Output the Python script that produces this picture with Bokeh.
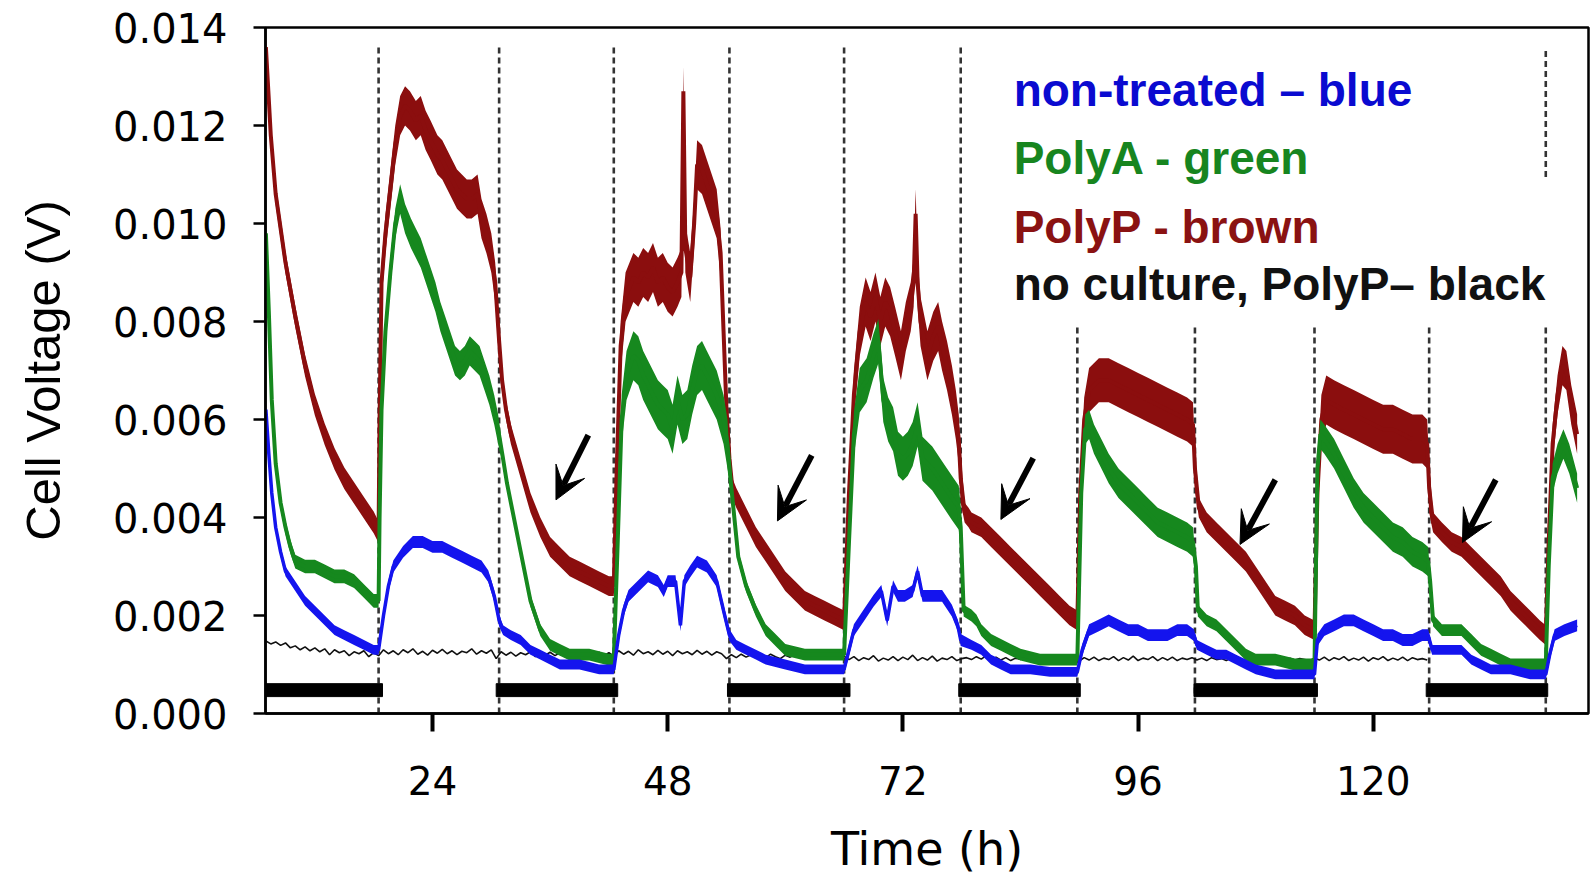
import numpy as np
from bokeh.plotting import figure
from bokeh.models import Range1d, FixedTicker, PrintfTickFormatter, Label, Arrow, VeeHead
from bokeh.embed import file_html
from bokeh.resources import INLINE

# ---------------- data ----------------
x_ticks = [24, 48, 72, 96, 120]
y_ticks = [0.0, 0.002, 0.004, 0.006, 0.008, 0.010, 0.012, 0.014]

# light/dark transition times (h) -> dashed lines
transitions = [18.5, 30.8, 42.5, 54.3, 66.0, 77.9, 89.8, 101.8, 114.0, 125.7, 137.6]
dash_top = [0.01359, 0.01359, 0.01359, 0.01359, 0.01359, 0.01359, 0.00791, 0.00791, 0.00791, 0.00791, 0.00791]
dash_extra_x = [137.6]
dash_extra_lo = [0.01095]
dash_extra_hi = [0.01359]

# dark periods (black bars)
dark_start = [6.96, 30.5, 54.1, 77.7, 101.7, 125.4]
dark_end = [18.9, 42.9, 66.6, 90.1, 114.3, 137.8]

# period edges: D1 L1 D2 L2 D3 L3 D4 L4 D5 L5 D6 L6
period_edges = [7.0, 18.5, 30.8, 42.5, 54.3, 66.0, 77.9, 89.8, 101.8, 114.0, 125.7, 137.6, 142.0]
brown_noise = [0.00022, 0.0004, 0.0002, 0.0005, 0.0002, 0.0005, 0.0002, 0.00045, 0.0002, 0.0005, 0.0002, 0.0004]
green_noise = [0.00014, 0.0003, 0.00012, 0.0005, 0.00012, 0.00045, 0.00012, 0.0003, 0.00012, 0.0003, 0.00012, 0.0003]
blue_noise = [0.0001, 0.00012, 0.0001, 0.00012, 0.0001, 0.00012, 0.0001, 0.00012, 0.0001, 0.00012, 0.0001, 0.00012]

brown_t = [7.0, 7.5, 8.0, 8.5, 9.0, 10.0, 11.0, 12.0, 13.0, 14.0, 15.0, 16.0, 17.0, 18.0, 18.5,
           18.6, 18.8, 19.2, 19.7, 20.2, 20.7, 21.2, 21.7, 22.3, 22.8, 23.3, 23.8, 24.5, 25.0, 25.5, 26.0,
           26.5, 27.0, 27.5, 28.0, 28.6, 29.0, 29.5, 30.0, 30.4, 30.8,
           31.1, 31.5, 32.0, 33.0, 34.0, 35.0, 36.0, 37.0, 38.0, 39.0, 40.0, 41.0, 42.0, 42.5,
           42.8, 43.2, 43.7, 44.5, 45.0, 45.5, 46.0, 46.5, 47.0, 47.5, 48.0, 48.5, 49.0, 49.4, 49.6, 49.8,
           50.3, 50.7, 51.0, 51.5, 52.0, 52.5, 53.0, 53.4, 53.7, 54.0, 54.3,
           54.6, 55.0, 56.0, 57.0, 58.0, 59.0, 60.0, 61.0, 62.0, 63.0, 64.0, 65.0, 66.0,
           66.5, 67.0, 67.6, 68.2, 68.7, 69.2, 69.7, 70.2, 70.7, 71.2, 71.8, 72.3, 72.8, 73.1, 73.3, 73.5,
           73.8, 74.5, 75.1, 75.6, 76.0, 76.5, 77.0, 77.4, 77.7, 77.9,
           78.3, 78.7, 79.0, 80.0, 81.0, 82.0, 83.0, 84.0, 85.0, 86.0, 87.0, 88.0, 89.0, 89.8,
           90.1, 90.5, 91.0, 92.0, 93.0, 94.0, 95.0, 96.0, 97.0, 98.0, 99.0, 100.0, 101.0, 101.6, 101.8,
           102.2, 103.0, 104.0, 105.0, 106.0, 107.0, 108.0, 109.0, 110.0, 111.0, 112.0, 113.0, 114.0,
           114.3, 114.7, 115.2, 116.0, 117.0, 118.0, 119.0, 120.0, 121.0, 122.0, 123.0, 124.0, 125.0, 125.5, 125.7,
           126.1, 127.0, 128.0, 129.0, 130.0, 131.0, 132.0, 133.0, 134.0, 135.0, 136.0, 137.0, 137.6,
           137.9, 138.3, 138.8, 139.3, 139.7, 140.2, 140.8]
brown_v = [0.0136, 0.0118, 0.0106, 0.0099, 0.0092, 0.0081, 0.0071, 0.0063, 0.0057, 0.0052, 0.0048, 0.0045, 0.0042, 0.0039, 0.0037,
           0.0060, 0.0088, 0.0098, 0.0107, 0.0116, 0.0122, 0.0124, 0.0123, 0.0121, 0.0122, 0.0119, 0.0117, 0.0114, 0.0113, 0.0111, 0.0109,
           0.0107, 0.0106, 0.0105, 0.0105, 0.0106, 0.0101, 0.0098, 0.0094, 0.0088, 0.0076,
           0.0068, 0.0062, 0.0057, 0.0050, 0.0043, 0.0038, 0.0034, 0.0032, 0.0030, 0.0029, 0.0028, 0.0027, 0.0026, 0.0026,
           0.0050, 0.0075, 0.0085, 0.0089, 0.0088, 0.0090, 0.0089, 0.0091, 0.0088, 0.0089, 0.0087, 0.0086, 0.0088, 0.0090, 0.0127, 0.0095,
           0.0089, 0.0100, 0.0112, 0.0111, 0.0108, 0.0105, 0.0102, 0.0094, 0.0078, 0.0062, 0.0052,
           0.0046, 0.0044, 0.0040, 0.0036, 0.0033, 0.0030, 0.0027, 0.0025, 0.0023, 0.0022, 0.0021, 0.0020, 0.0019,
           0.0045, 0.0065, 0.0078, 0.0084, 0.0081, 0.0085, 0.0080, 0.0084, 0.0082, 0.0078, 0.0073, 0.0079, 0.0083, 0.0088, 0.0102, 0.0088,
           0.0080, 0.0073, 0.0077, 0.0079, 0.0075, 0.0071, 0.0066, 0.0061, 0.0056, 0.0048,
           0.0041, 0.0040, 0.0039, 0.0038, 0.0036, 0.0034, 0.0032, 0.0030, 0.0028, 0.0026, 0.0024, 0.0022, 0.0020, 0.0019,
           0.0045, 0.0060, 0.0066, 0.0068, 0.0068, 0.0067, 0.0066, 0.0065, 0.0064, 0.0063, 0.0062, 0.0061, 0.0060, 0.0059, 0.0050,
           0.0042, 0.0039, 0.0037, 0.0035, 0.0033, 0.0031, 0.0028, 0.0025, 0.0022, 0.0021, 0.0020, 0.0018, 0.0017,
           0.0045, 0.0060, 0.0064, 0.0063, 0.0062, 0.0061, 0.0060, 0.0059, 0.0058, 0.0058, 0.0057, 0.0056, 0.0056, 0.0055, 0.0046,
           0.0039, 0.0037, 0.0035, 0.0034, 0.0032, 0.0030, 0.0028, 0.0026, 0.0023, 0.0021, 0.0019, 0.0017, 0.0016,
           0.0035, 0.0055, 0.0065, 0.0071, 0.0070, 0.0063, 0.0057]

green_t = [7.0, 7.3, 7.6, 8.0, 8.5, 9.0, 9.5, 10.0, 11.0, 12.0, 13.0, 14.0, 15.0, 16.0, 17.0, 18.0, 18.5,
           18.6, 18.8, 19.2, 19.7, 20.2, 20.7, 21.2, 21.8, 22.3, 22.8, 23.3, 23.8, 24.3, 24.8, 25.3, 25.8,
           26.3, 26.8, 27.3, 27.8, 28.3, 28.8, 29.3, 29.8, 30.3, 30.7,
           31.2, 31.6, 32.0, 33.0, 34.0, 35.0, 36.0, 37.0, 38.0, 40.0, 42.0, 42.5,
           42.9, 43.3, 43.8, 44.5, 45.0, 45.5, 46.0, 46.5, 47.0, 47.5, 48.0, 48.5, 49.0, 49.5, 50.0, 50.5,
           51.0, 51.5, 52.0, 52.5, 53.0, 53.7, 54.1,
           54.4, 54.7, 55.2, 56.0, 57.0, 58.0, 59.0, 60.0, 62.0, 64.0, 66.0,
           66.5, 67.0, 67.6, 68.3, 69.0, 69.5, 70.0, 70.5, 71.0, 71.5, 72.0, 72.5, 73.0, 73.5, 74.0, 75.0,
           76.0, 77.0, 77.7,
           77.9, 78.2, 79.0, 79.5, 80.0, 81.0, 82.0, 83.0, 84.0, 86.0, 88.0, 89.8,
           90.2, 90.6, 91.0, 91.5, 92.0, 93.0, 94.0, 95.0, 96.0, 97.0, 98.0, 99.0, 100.0, 101.0, 101.6,
           101.9, 102.1, 103.0, 104.0, 105.0, 106.0, 107.0, 108.0, 110.0, 112.0, 114.0,
           114.3, 114.6, 115.0, 116.0, 117.0, 118.0, 119.0, 120.0, 121.0, 122.0, 123.0, 124.0, 125.0, 125.6,
           125.8, 126.1, 127.0, 128.0, 129.0, 130.0, 131.0, 132.0, 133.0, 134.0, 136.0, 137.6,
           137.9, 138.3, 138.8, 139.4, 140.0, 140.8]
green_v = [0.0098, 0.0082, 0.0064, 0.0051, 0.0043, 0.0038, 0.0034, 0.0031, 0.0030, 0.0030, 0.0029, 0.0028, 0.0028, 0.0027, 0.0025, 0.0023, 0.0023,
           0.0040, 0.0062, 0.0078, 0.0090, 0.0100, 0.0105, 0.0101, 0.0098, 0.0096, 0.0094, 0.0091, 0.0088, 0.0085, 0.0081, 0.0078, 0.0075,
           0.0072, 0.0071, 0.0072, 0.0074, 0.0073, 0.0072, 0.0069, 0.0066, 0.0062, 0.0058,
           0.0052, 0.0047, 0.0043, 0.0033, 0.0023, 0.0017, 0.0014, 0.0013, 0.0012, 0.0012, 0.0011, 0.0011,
           0.0035, 0.0060, 0.0069, 0.0073, 0.0072, 0.0069, 0.0067, 0.0065, 0.0063, 0.0062, 0.0061, 0.0058, 0.0064, 0.0060, 0.0061, 0.0066,
           0.0070, 0.0071, 0.0069, 0.0067, 0.0065, 0.0060, 0.0055,
           0.0048, 0.0042, 0.0032, 0.0026, 0.0021, 0.0017, 0.0015, 0.0013, 0.0012, 0.0012, 0.0012,
           0.0035, 0.0057, 0.0066, 0.0068, 0.0073, 0.0076, 0.0064, 0.0060, 0.0058, 0.0053, 0.0052, 0.0053, 0.0055, 0.0059, 0.0052, 0.0050,
           0.0047, 0.0044, 0.0042,
           0.0038, 0.0021, 0.0020, 0.0019, 0.0017, 0.0015, 0.0014, 0.0013, 0.0012, 0.0011, 0.0011, 0.0011,
           0.0045, 0.0058, 0.0059, 0.0056, 0.0054, 0.0050, 0.0047, 0.0045, 0.0043, 0.0041, 0.0039, 0.0038, 0.0037, 0.0036, 0.0035,
           0.0030, 0.0021, 0.0019, 0.0018, 0.0016, 0.0014, 0.0012, 0.0011, 0.0011, 0.0010, 0.0010,
           0.0050, 0.0057, 0.0056, 0.0053, 0.0049, 0.0045, 0.0042, 0.0040, 0.0038, 0.0036, 0.0035, 0.0033, 0.0032, 0.0031,
           0.0027, 0.0019, 0.0017, 0.0017, 0.0017, 0.0015, 0.0013, 0.0012, 0.0011, 0.0010, 0.0010, 0.0010,
           0.0030, 0.0048, 0.0052, 0.0055, 0.0052, 0.0046]

blue_t = [7.0, 7.3, 7.6, 8.0, 8.5, 9.0, 10.0, 11.0, 12.0, 13.0, 14.0, 15.0, 16.0, 17.0, 18.0, 18.5,
          19.0, 19.5, 20.0, 21.0, 22.0, 23.0, 24.0, 25.0, 26.0, 27.0, 28.0, 29.0, 29.7, 30.3, 30.8,
          31.2, 32.0, 33.0, 34.0, 35.0, 36.0, 37.0, 39.0, 41.0, 42.5,
          43.0, 43.5, 44.0, 45.0, 46.0, 47.0, 47.6, 48.0, 48.8, 49.3, 49.7, 50.3, 51.0, 52.0, 53.0, 53.7, 54.3,
          55.0, 56.0, 57.0, 58.0, 60.0, 62.0, 64.0, 66.0,
          66.5, 67.0, 68.0, 69.0, 69.8, 70.4, 71.0, 71.5, 72.2, 73.0, 73.5, 74.0, 75.0, 76.0, 77.0, 77.6, 77.9,
          79.0, 80.0, 81.0, 82.0, 83.0, 85.0, 87.0, 89.8,
          90.3, 91.0, 92.0, 93.0, 94.0, 95.0, 96.0, 97.0, 98.0, 99.0, 100.0, 101.0, 101.7,
          102.0, 103.0, 104.0, 105.0, 106.0, 107.0, 108.0, 110.0, 114.0,
          114.3, 115.0, 116.0, 117.0, 118.0, 119.0, 120.0, 121.0, 122.0, 123.0, 124.0, 125.0, 125.6,
          126.0, 128.0, 129.0, 130.0, 131.0, 132.0, 134.0, 136.0, 137.6,
          138.0, 138.5, 139.5, 140.8]
blue_v = [0.0062, 0.0053, 0.0045, 0.0038, 0.0033, 0.0029, 0.0026, 0.0023, 0.0021, 0.0019, 0.0017, 0.0016, 0.0015, 0.0014, 0.0013, 0.0013,
          0.0020, 0.0026, 0.0030, 0.0033, 0.0035, 0.0035, 0.0034, 0.0034, 0.0033, 0.0032, 0.0031, 0.0030, 0.0028, 0.0024, 0.0019,
          0.0017, 0.0016, 0.0015, 0.0013, 0.0012, 0.0011, 0.0010, 0.0010, 0.0009, 0.0009,
          0.0016, 0.0021, 0.0024, 0.0026, 0.0028, 0.0027, 0.0025, 0.0027, 0.0027, 0.0018, 0.0027, 0.0029, 0.0031, 0.0030, 0.0027, 0.0021, 0.0016,
          0.0014, 0.0013, 0.0012, 0.0011, 0.0010, 0.0009, 0.0009, 0.0009,
          0.0013, 0.0017, 0.0020, 0.0023, 0.0025, 0.0019, 0.0026, 0.0024, 0.0024, 0.0025, 0.0029, 0.0024, 0.0024, 0.0024, 0.0021, 0.0018, 0.0015,
          0.0014, 0.0013, 0.0011, 0.0010, 0.0009, 0.0009, 0.00085, 0.00085,
          0.0013, 0.0017, 0.0018, 0.0019, 0.0018, 0.0017, 0.0017, 0.0016, 0.0016, 0.0016, 0.0017, 0.0017, 0.0016,
          0.0014, 0.0013, 0.0012, 0.0012, 0.0011, 0.0010, 0.0009, 0.0008, 0.0008,
          0.0015, 0.0017, 0.0018, 0.0019, 0.0019, 0.0018, 0.0017, 0.0016, 0.0016, 0.0015, 0.0015, 0.0016, 0.0016,
          0.0013, 0.0013, 0.0013, 0.0011, 0.0010, 0.0009, 0.0009, 0.0008, 0.0008,
          0.0012, 0.0016, 0.0017, 0.0018]

# no culture, PolyP (black), sampled every 0.5 h from 7 h to 125.5 h
black_t = np.arange(7.0, 126.0, 0.5)
black_v = [0.00148, 0.00142, 0.00146, 0.00139, 0.00144, 0.00134, 0.00138, 0.00130, 0.00136, 0.00128,
           0.00134, 0.00126, 0.00132, 0.00120, 0.00130, 0.00124, 0.00128, 0.00118, 0.00126, 0.00122,
           0.00128, 0.00116, 0.00124, 0.00118, 0.00130, 0.00122, 0.00128, 0.00120, 0.00130, 0.00124,
           0.00132, 0.00121, 0.00127, 0.00119, 0.00129, 0.00123, 0.00131, 0.00122, 0.00128, 0.00120,
           0.00127, 0.00124, 0.00132, 0.00121, 0.00128, 0.00123, 0.00130, 0.00112, 0.00126, 0.00119,
           0.00125, 0.00117, 0.00124, 0.00120, 0.00126, 0.00116, 0.00123, 0.00119, 0.00125, 0.00118,
           0.00124, 0.00116, 0.00122, 0.00119, 0.00126, 0.00117, 0.00123, 0.00120, 0.00125, 0.00118,
           0.00124, 0.00117, 0.00128, 0.00121, 0.00127, 0.00119, 0.00130, 0.00122, 0.00126, 0.00120,
           0.00129, 0.00121, 0.00127, 0.00118, 0.00128, 0.00122, 0.00126, 0.00120, 0.00129, 0.00121,
           0.00127, 0.00119, 0.00126, 0.00122, 0.00112, 0.00120, 0.00114, 0.00121, 0.00115, 0.00120,
           0.00113, 0.00119, 0.00114, 0.00121, 0.00116, 0.00112, 0.00119, 0.00115, 0.00121, 0.00114,
           0.00118, 0.00113, 0.00120, 0.00116, 0.00122, 0.00114, 0.00119, 0.00113, 0.00117, 0.00110,
           0.00116, 0.00108, 0.00114, 0.00110, 0.00118, 0.00107, 0.00113, 0.00109, 0.00116, 0.00108,
           0.00115, 0.00110, 0.00119, 0.00108, 0.00114, 0.00109, 0.00117, 0.00107, 0.00113, 0.00110,
           0.00116, 0.00108, 0.00112, 0.00114, 0.00110, 0.00116, 0.00111, 0.00118, 0.00110, 0.00115,
           0.00109, 0.00114, 0.00108, 0.00113, 0.00110, 0.00115, 0.00108, 0.00112, 0.00109, 0.00114,
           0.00110, 0.00113, 0.00108, 0.00112, 0.00109, 0.00113, 0.00107, 0.00114, 0.00109, 0.00115,
           0.00108, 0.00113, 0.00110, 0.00116, 0.00108, 0.00114, 0.00109, 0.00117, 0.00108, 0.00113,
           0.00110, 0.00116, 0.00108, 0.00114, 0.00109, 0.00115, 0.00108, 0.00113, 0.00110, 0.00114,
           0.00109, 0.00113, 0.00108, 0.00114, 0.00110, 0.00112, 0.00108, 0.00113, 0.00109, 0.00112,
           0.00108, 0.00113, 0.00110, 0.00112, 0.00107, 0.00113, 0.00109, 0.00112, 0.00108, 0.00113,
           0.00109, 0.00112, 0.00110, 0.00108, 0.00113, 0.00109, 0.00115, 0.00108, 0.00114, 0.00110,
           0.00116, 0.00108, 0.00113, 0.00109, 0.00115, 0.00107, 0.00114, 0.00110, 0.00116, 0.00108,
           0.00113, 0.00109, 0.00115, 0.00108, 0.00114, 0.00110, 0.00112, 0.00109]

# arrows (tail -> tip)
arrow_x0 = [39.9, 62.7, 85.3, 110.0, 132.5]
arrow_y0 = [0.00568, 0.00527, 0.00521, 0.00477, 0.00477]
arrow_x1 = [36.6, 59.2, 82.0, 106.4, 129.1]
arrow_y1 = [0.00436, 0.00393, 0.00396, 0.00345, 0.00349]

legend_texts = ["non-treated \u2013 blue", "PolyA - green", "PolyP - brown", "no culture, PolyP\u2013 black"]
legend_colors = ["#0A0AD0", "#17851F", "#8A1212", "#111111"]
legend_y = [0.01272, 0.01134, 0.00992, 0.00876]

BROWN = "#8B0E0E"
GREEN = "#16881E"
BLUE = "#1414EE"

# ---------------- figure ----------------
p = figure(width=1593, height=878, output_backend="svg", toolbar_location=None,
           x_range=Range1d(6.96, 141.96), y_range=Range1d(0.0, 0.014),
           min_border_left=265, min_border_right=5, min_border_top=27, min_border_bottom=161)
p.xgrid.visible = False
p.ygrid.visible = False
p.outline_line_color = "black"
p.outline_line_width = 2.5
p.background_fill_color = "white"
p.border_fill_color = "white"

# dashed transition lines
p.segment(x0=transitions, y0=[0.0] * len(transitions), x1=transitions, y1=dash_top,
          line_color="#333333", line_width=2.6, line_dash="6 4")
p.segment(x0=dash_extra_x, y0=dash_extra_lo, x1=dash_extra_x, y1=dash_extra_hi,
          line_color="#333333", line_width=2.6, line_dash="6 4")

# dark period bars
p.hbar(y=[0.000477] * len(dark_start), left=dark_start, right=dark_end, height=0.000264,
       fill_color="black", line_color="black")

edges = np.array(period_edges)


def spread(t, hw):
    t = np.asarray(t, dtype=float)
    idx = np.clip(np.searchsorted(edges, t, side="left") - 1, 0, len(hw) - 1)
    return np.asarray(hw)[idx]


# black trace first (beneath)
p.line(black_t, black_v, line_color="#111111", line_width=1.6)

for t, v, hw, col, lw in [(brown_t, brown_v, brown_noise, BROWN, 4),
                          (green_t, green_v, green_noise, GREEN, 4),
                          (blue_t, blue_v, blue_noise, BLUE, 3.5)]:
    tt = np.asarray(t, dtype=float)
    vv = np.asarray(v, dtype=float)
    s = spread(tt, hw)
    p.varea(x=tt, y1=vv - s, y2=vv + s, fill_color=col)
    p.line(tt, vv, line_color=col, line_width=lw)

# arrows
for xa, ya, xb, yb in zip(arrow_x0, arrow_y0, arrow_x1, arrow_y1):
    p.add_layout(Arrow(x_start=xa, y_start=ya, x_end=xb, y_end=yb,
                       line_color="black", line_width=6,
                       end=VeeHead(size=32, fill_color="black", line_color="black", line_width=1)))

# legend texts
for txt, col, yy in zip(legend_texts, legend_colors, legend_y):
    p.add_layout(Label(x=83.3, y=yy, text=txt, text_color=col, text_font="Liberation Sans",
                       text_font_size="46px", text_font_style="bold", text_baseline="alphabetic",
                       text_align="left"))

# axes
p.xaxis.ticker = FixedTicker(ticks=x_ticks)
p.xaxis.axis_line_width = 2.5
p.xaxis.axis_line_color = "black"
p.xaxis.major_tick_out = 18
p.xaxis.major_tick_in = 0
p.xaxis.major_tick_line_width = 4
p.xaxis.major_tick_line_color = "black"
p.xaxis.minor_tick_line_color = None
p.xaxis.major_label_text_font = "DejaVu Sans"
p.xaxis.major_label_text_font_size = "39px"
p.xaxis.major_label_text_color = "black"
p.xaxis.major_label_standoff = 34
p.xaxis.axis_label = "Time (h)"
p.xaxis.axis_label_text_font = "DejaVu Sans"
p.xaxis.axis_label_text_font_size = "46px"
p.xaxis.axis_label_text_font_style = "normal"
p.xaxis.axis_label_text_color = "black"
p.xaxis.axis_label_standoff = 24

p.yaxis.ticker = FixedTicker(ticks=y_ticks)
p.yaxis.formatter = PrintfTickFormatter(format="%.3f")
p.yaxis.axis_line_width = 2.5
p.yaxis.axis_line_color = "black"
p.yaxis.major_tick_out = 12
p.yaxis.major_tick_in = 0
p.yaxis.major_tick_line_width = 2.5
p.yaxis.major_tick_line_color = "black"
p.yaxis.minor_tick_line_color = None
p.yaxis.major_label_text_font = "DejaVu Sans"
p.yaxis.major_label_text_font_size = "40px"
p.yaxis.major_label_text_color = "black"
p.yaxis.major_label_standoff = 26
p.yaxis.axis_label = "Cell Voltage (V)"
p.yaxis.axis_label_text_font = "Liberation Sans"
p.yaxis.axis_label_text_font_size = "49px"
p.yaxis.axis_label_text_font_style = "normal"
p.yaxis.axis_label_text_color = "black"
p.yaxis.axis_label_standoff = 40

open("out.html", "w").write(file_html(p, INLINE))
